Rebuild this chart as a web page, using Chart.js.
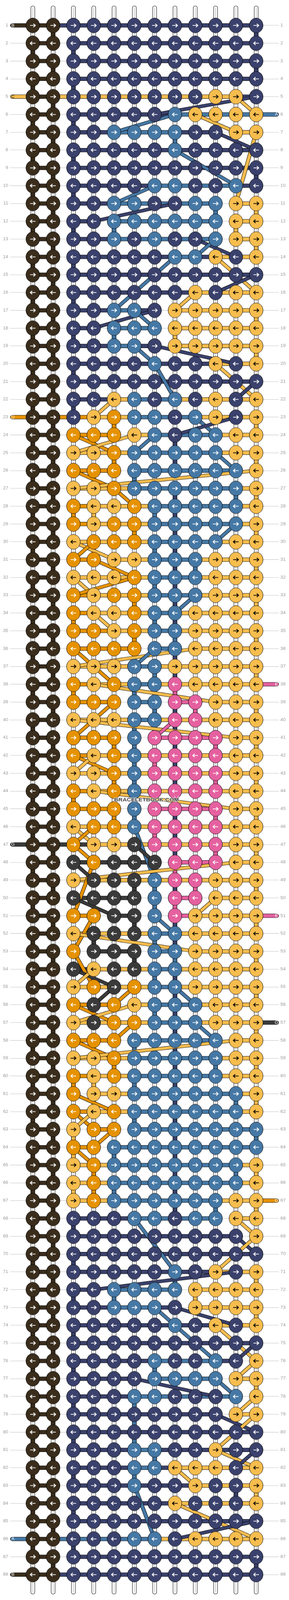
<!DOCTYPE html>
<html><head><meta charset="utf-8">
<style>html,body{margin:0;padding:0;background:#fff;overflow:hidden}canvas{display:block;transform-origin:0 0}</style>
<script src="https://cdn.jsdelivr.net/npm/chart.js@4/dist/chart.umd.min.js"></script>
</head><body><canvas id="c" width="740" height="4648"></canvas>
<script>
const threadColors={k:'#3a2d1c',n:'#3a416c',b:'#4578a5',y:'#f6bd4e',o:'#e69200',p:'#e5609f',g:'#3a3a3a'};
// knot colours, row 1..88, columns 3..12 (columns 1-2 are always brown)
const knotRows=["nnnnnnnnnn","nnnnnnnnnn","nnnnnnnnnn","nnnnnnnnnn","nnnnnnnyyn","nnnnnbyyyy","nnbbbbnnyy","nnnnnbnnnn","nnnnnnnnnn","nnnnbbnnbn","nnbbnnbbyy","nnbbbbbbyy","nnbnbnnbyy","nnnnnbbyny","nnnnnnnnnn","nnnnnnynyy","nnbbnyyyyy","nnbbbyyyyy","nnbbnyyyyy","nnnnbnnyny","nnnnnnnnnn","nnybnbnyny","nyobbnbyny","oooybnbbyy","yyobbbbbyy","ooobbbbbby","yyobbbbbby","oyyobbbbby","oyoobbbbby","yooobbbbyy","ooyybbbyyy","yyyobbbyyy","oyoobbbyyy","oyyobbyyyy","ooyobbyyyy","oooobbyyyy","yyybbyyyyy","oyobbpyyyy","ooobbppyyy","yyybbppyyy","ooobppppyy","oyobppppyy","yyobppppyy","oyobppppyy","ooobppppyy","yoobppppyy","oyygppppyy","gogggpppyy","ygggbppyyy","ggggbppyyy","ooggbpyyyy","ygggbbyyyy","ogggbbyyyy","gyggbbyyyy","yogobbyyyy","ogoybbbyyy","ygoobbbyyy","ooobbbbbyy","yyobbbbbyy","oyobbbbbyy","oyybbbbbby","oyobbbbbby","yoobbbbbbb","oobbbbbbbb","yobbbbbbby","yobbbbbbby","yobbbbbbyy","nnnbbnbbyy","nnnnnnnnny","nnnnnnnnnn","nnnnnbnyny","nnbbbbyyyy","nnbbbnyyyy","nnnnnbnyny","nnnnnnnnnn","nnnnbnnbny","nnnnbbbbyy","nnnbbnnnby","nnnnnnnnyy","nnnnnnnnnn","nnnbbnnynn","nnnbbyyyny","nnnbnnynny","nnnnnynnny","nnnnnnnnnn","nnnbbnyyyy","nnnnnnnnnn","nnnnnnnnnn"];
// horizontal thread between neighbouring knots: column gaps 2-3, 3-4 ... 11-12
const barRows=["nnnnnnnnnn",".nnnnnnnnn",".nnnnnnnnn",".nnnnnnnnn","yyyyyyyyyn",".nnnnnbbbb",".nnbbbnn.y",".nnnnnnnnn",".nnnnnnnnn",".nnnnbbbbn",".nnbbbbb.y",".n.bbbbb.y",".nnbbbbb.y",".nnnnnbnyy",".nnnnnnnnn",".nnnnnnyyy",".nnbn.yyyy",".n.bb.yyyy",".nnbn.yyyy",".nnnnnnnyy",".nnnnnnnnn",".nnybbyyyy","ooyybbbyyy",".oo.ybbbyy",".yyybbbbyy",".oo.bbbbb.",".yyybbbbby",".oyyybbbby",".oyyybbbby",".yyyybbbyy",".o.yybbyyy",".yyyybbyyy",".oyyybbyyy",".oyyybyyyy",".ooyybyyyy",".ooo.b.yyy",".yyybyyyyy",".oyybyyyyy",".oo.b.p.yy",".yyybyyyyy",".oo..ppp.y",".oyyyyyyyy",".yyyyyyyyy",".oyyyyyyyy",".oo..ppp.y",".yyyyyyyyy","ggyyyyyyyy",".gggg.pp.y",".yyyyyyyyy",".ggg..p.yy",".o.g..pyyy",".yyyybyyyy","..gg.b.yyy",".gyyybyyyy",".yyyybyyyy",".oo.ybbyyy",".yyyybbyyy",".oo.bbbb.y",".yyybbbbyy",".oyybbbbyy","..yybbbbby",".oyybbbbby","..o.bbbbbb",".o.bbbbbbb",".yybbbbbby",".yybbbbbby",".yybbbbbyy",".nnnbbbb.y",".nnnnnnnn.",".nnnnnnnnn",".nnnnnnnyy",".n.bbb.yyy",".nnbbn.yyy",".nnnnnnnyy",".nnnnnnnnn",".nnnnbbbn.",".nnn.bbb.y",".nnnbbbbb.",".nnnnnnn.y",".nnnnnnnnn",".nnnbnnnnn",".nnnbnyyyy",".nnnnnnyyy",".nnnnnyyyy",".nnnnnnnnn","bbbbbyyyyy",".nnnnnnnnn","nnnnnnnnnn"];
// coloured drop below each row, columns 3..12 ("." = bare white warp)
const dropRows=[".........n","n.........",".........n","n.........","..........","n.........",".....b....","n.........",".........n","n.........",".......b.y","n.b.....y.",".........y","n.........","..........","n.........",".........y","n.b..y....",".........y","n.........","..........","n.........","..o......y",".....n....","..o..n...y","...b......",".....n..by","oy..bn....","...o.n...y","....bn....",".....nb..y","....bn....","...o.n...y","o...bn....","...o.b...y",".....n....","....bn...y","o..b.p....","....bnp..y","...b.n....","..ob.n.p.y","...bpn....","..ob.n.p.y","o..b.n....","..ob.n.p.y","....pn....",".....n.p.y",".....p....","...gbnp..y","....bp....","...g.n...y",".g..bn....","...g.b...y","....bn....",".....n...y","....bn....",".....n...y","...b.n....","..o..n.b.y","oy.b.n....",".....n..by","...b.n....","y....n...b","y.b..n....",".o...n..by","yob..n....",".....n.b.y","n.........","..........","n.........",".....b...y","n.b...y...",".........y","n.........","..........","n...b.....",".........y","n..b......","...b......","n..b......","....b.....","n..b......","........ny","n.........","..........","n.........",".........n",".........."];
// threads jumping between rows: colour, from column, from row, to column, to row
const crossings=[["y",11,5,12,6],["n",12,5,7,6],["b",8,6,5,7],["y",9,6,11,7],["n",10,7,12,8],["y",12,7,11,11],["b",8,8,11,10],["b",7,10,5,11],["n",8,11,4,12],["n",9,13,11,14],["b",10,13,9,14],["b",8,14,5,17],["y",10,14,12,16],["n",12,15,10,16],["y",9,16,8,17],["n",7,17,4,18],["b",6,17,7,18],["n",7,19,11,20],["b",6,19,7,20],["b",7,20,8,22],["y",10,20,12,22],["n",12,21,11,22],["y",5,22,4,23],["b",9,23,10,24],["n",11,23,8,24],["o",3,24,5,25],["y",6,24,3,25],["b",7,24,6,25],["b",10,25,11,26],["o",3,26,5,27],["y",12,26,3,27],["o",5,27,6,28],["b",11,29,10,30],["y",3,30,5,31],["o",4,30,3,31],["o",4,31,6,32],["y",3,32,4,33],["o",6,32,3,33],["b",9,33,8,34],["y",4,34,5,35],["o",3,36,5,38],["y",9,36,3,37],["b",7,36,6,37],["y",4,38,10,39],["o",5,39,3,41],["y",3,40,11,41],["p",8,40,7,41],["o",3,42,5,43],["y",4,42,3,43],["y",4,44,11,45],["y",3,46,4,47],["o",4,46,3,47],["b",6,46,7,49],["o",3,47,4,48],["g",6,47,7,48],["y",11,48,3,49],["o",4,48,3,51],["g",3,48,4,49],["g",3,50,5,51],["y",10,50,9,51],["b",7,51,8,52],["o",4,51,3,53],["y",3,52,9,53],["o",3,53,4,55],["g",3,54,5,55],["y",4,54,3,55],["g",5,55,4,56],["o",6,55,5,56],["b",8,55,9,56],["o",3,56,5,57],["y",6,56,3,57],["o",6,57,5,58],["b",9,57,10,58],["o",3,58,5,59],["y",11,58,3,59],["o",3,61,5,62],["o",3,62,4,63],["y",4,62,3,63],["o",5,63,4,64],["o",3,64,4,65],["b",6,68,8,71],["y",11,68,12,69],["n",11,69,12,70],["y",12,69,10,71],["n",11,71,4,72],["b",7,73,8,74],["n",8,73,11,74],["b",8,74,10,76],["y",10,74,12,76],["n",12,75,11,76],["y",12,76,11,77],["n",6,77,10,78],["b",10,77,11,78],["y",12,78,11,79],["n",10,79,12,80],["y",12,79,10,81],["y",10,81,12,82],["n",12,81,11,82],["y",8,82,9,83],["b",6,83,7,86],["y",8,84,12,86],["n",12,85,8,86]];
const leftTags=[[1,"B","k"],[5,"C","y"],[23,"D","o"],[47,"G","g"],[86,"A","b"],[88,"B","k"]];
const rightTags=[[6,"A","b"],[38,"E","p"],[51,"E","p"],[57,"G","g"],[67,"D","o"]];
const rowLabels=knotRows.map((_,i)=>i+1);
const watermark="BRACELETBOOK.COM";

const keys=Object.keys(threadColors);
const seq=[];
function line(points,color,width,cap){
  seq.push({type:'scatter',showLine:true,data:points,borderColor:color,backgroundColor:color,borderWidth:width,
    pointRadius:0,pointHoverRadius:0,borderCapStyle:cap||'butt',borderJoinStyle:'miter',tension:0,spanGaps:false,clip:false});
}
function pairs(list){const out=[];list.forEach(s=>{out.push(s[0],s[1],{x:NaN,y:NaN});});return out;}
function P(x,y){return {x:x,y:y};}
function outlined(list,color,outer,inner,cap){if(!list.length)return;const d=pairs(list);line(d,'#000',outer,cap);line(d,color,inner,cap);}

// warps
const warps=[];for(let c=1;c<=12;c++)warps.push([P(c,0),P(c,89)]);
line(pairs(warps),'#000',11,'round');line(pairs(warps),'#fff',9,'round');line(pairs(warps),'#c8c8c8',1);

// drops
keys.forEach(k=>{
  const segs=[];
  dropRows.forEach((s,i)=>{const r=i+1;
    if(k==='k'&&r<88)segs.push([P(r%2?2:1,r),P(r%2?2:1,r+1)]);
    [...s].forEach((ch,j)=>{if(ch===k)segs.push([P(j+3,r),P(j+3,r+1)]);});
  });
  outlined(segs,threadColors[k],11,9);
});
// bars
keys.forEach(k=>{
  const segs=[];
  barRows.forEach((s,i)=>{const r=i+1;
    if(k==='k')segs.push([P(1,r),P(2,r)]);
    [...s].forEach((ch,j)=>{if(ch===k)segs.push([P(j+2,r),P(j+3,r)]);});
  });
  outlined(segs,threadColors[k],12,10);
});
// tags (end pills)
leftTags.forEach(t=>outlined([[P(0,t[0]),P(1,t[0])]],threadColors[t[2]],12,10,'round'));
rightTags.forEach(t=>outlined([[P(12,t[0]),P(13,t[0])]],threadColors[t[2]],12,10,'round'));
// crossings
crossings.forEach(d=>outlined([[P(d[1],d[2]),P(d[3],d[4])]],threadColors[d[0]],10,8));

// knots
function knotImage(col){const c=document.createElement('canvas');c.width=38;c.height=46;const x=c.getContext('2d');
  x.beginPath();x.ellipse(19,23,17.5,21.5,0,0,Math.PI*2);x.fillStyle=col;x.fill();x.strokeStyle='#000';x.lineWidth=1;x.stroke();return c;}
function arrowImage(dir,col){const c=document.createElement('canvas');c.width=20;c.height=16;const x=c.getContext('2d');
  x.translate(10,8);x.scale(dir,1);x.strokeStyle=col;x.lineWidth=2.2;x.lineCap='butt';x.lineJoin='miter';
  x.beginPath();x.moveTo(-7,0);x.lineTo(6,0);x.moveTo(1.5,-5);x.lineTo(6.5,0);x.lineTo(1.5,5);x.stroke();return c;}
function pts(img,data){seq.push({type:'scatter',showLine:false,data:data,pointStyle:img,pointRadius:10,pointHoverRadius:10,clip:false,borderWidth:0});}
const grid=knotRows.map(s=>'kk'+s);
keys.forEach(k=>{const d=[];grid.forEach((s,i)=>[...s].forEach((ch,j)=>{if(ch===k)d.push(P(j+1,i+1));}));if(d.length)pts(knotImage(threadColors[k]),d);});
[[1,'#fff',false],[-1,'#fff',false],[1,'#000',true],[-1,'#000',true]].forEach(a=>{
  const d=[];grid.forEach((s,i)=>{const r=i+1;if((r%2?1:-1)!==a[0])return;[...s].forEach((ch,j)=>{if((ch==='y')===a[2])d.push(P(j+1,r));});});
  pts(arrowImage(a[0],a[1]),d);
});
seq.forEach((d,i)=>{d.order=seq.length-i;});

const textPlugin={id:'tags',afterDatasetsDraw(ch){
  const c=ch.ctx,X=ch.scales.x,Y=ch.scales.y;c.save();
  c.textAlign='center';c.textBaseline='middle';c.font='12px "Liberation Sans"';
  leftTags.concat(rightTags).forEach((t,i)=>{
    const col=i<leftTags.length?0:13;
    c.fillStyle=t[2]==='y'?'#222':'#fff';
    c.fillText(t[1],X.getPixelForValue(col)+(col?0:1),Y.getPixelForValue(t[0])+0.5);
  });
  c.font='bold 15px "Liberation Sans"';c.lineWidth=2.5;c.strokeStyle='rgba(255,255,255,.75)';c.fillStyle='#444';
  const wx=X.getPixelForValue(6.6),wy=Y.getPixelForValue(44.5);
  c.strokeText(watermark,wx,wy);c.fillText(watermark,wx,wy);
  c.restore();
}};
const rowMin=1+(0-62)/52,rowMax=1+(4648-62)/52;
function rowTicks(ax){ax.ticks=rowLabels.map(v=>({value:v}));}
const canvasEl=document.getElementById('c');
new Chart(canvasEl,{
  type:'scatter',
  data:{datasets:seq},
  plugins:[textPlugin],
  options:{responsive:false,animation:false,devicePixelRatio:1,events:[],
    layout:{padding:0},
    plugins:{legend:{display:false},tooltip:{enabled:false},title:{display:false}},
    scales:{
      x:{type:'linear',display:false,min:1+(26-84)/52,max:1+(714-84)/52},
      y:{type:'linear',position:'left',reverse:true,min:rowMin,max:rowMax,
        afterBuildTicks:rowTicks,afterFit(a){a.width=26;},
        border:{display:false},grid:{color:'#bbb',lineWidth:1,drawTicks:false},
        ticks:{autoSkip:false,padding:5,color:'#9a9a9a',font:{family:'Liberation Sans',size:12},callback:v=>String(v)}},
      y2:{type:'linear',position:'right',reverse:true,min:rowMin,max:rowMax,
        afterBuildTicks:rowTicks,afterFit(a){a.width=26;},
        border:{display:false},grid:{display:false,drawTicks:false},
        ticks:{autoSkip:false,padding:4,color:'#9a9a9a',font:{family:'Liberation Sans',size:12},callback:v=>String(v)}}
    }}
});
// the browser window may be shorter than the 4648px chart: keep every row in view
if(window.innerHeight<4648){canvasEl.style.transform='scaleY('+(window.innerHeight/4648)+')';document.documentElement.style.height=document.body.style.height=window.innerHeight+'px';}
</script></body></html>
